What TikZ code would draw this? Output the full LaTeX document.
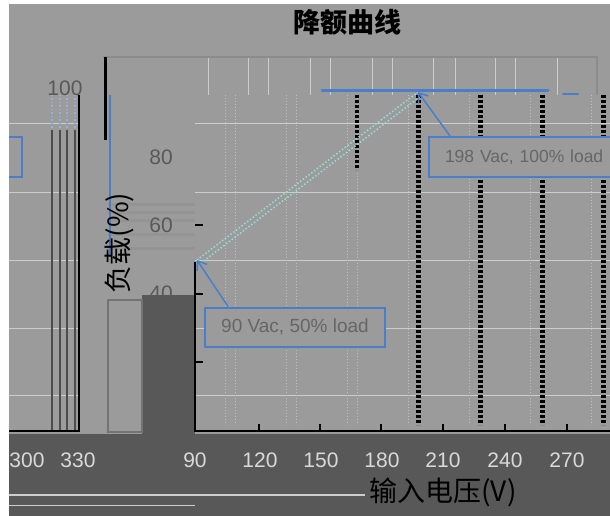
\documentclass[tikz,border=0pt]{standalone}
\usepackage{fontspec}
\setmainfont{Liberation Sans}
\newfontfamily\cjk{Noto Sans CJK SC}
\usetikzlibrary{arrows.meta}
\definecolor{chartgray}{RGB}{155,155,155}
\definecolor{bandgray}{RGB}{88,88,88}
\definecolor{gridlight}{RGB}{205,205,205}
\definecolor{chartblue}{RGB}{74,126,200}
\definecolor{slopecyan}{RGB}{150,222,212}
\tikzset{
  xtick/.style={font=\fontsize{21}{24}\selectfont,text=white!85!black,inner sep=0pt},
  ytick/.style={font=\fontsize{21}{24}\selectfont,text=black!65,inner sep=0pt},
  callout/.style={draw=chartblue,fill=chartgray,line width=2pt,minimum width=180pt,minimum height=39pt,
    font=\fontsize{19}{22}\selectfont,text=black!60,inner sep=0pt},
  pointer/.style={chartblue,line width=1.5pt,-{Straight Barb[length=8pt,width=12pt]}},
  curve/.style={chartblue,line width=3pt,line cap=round},
  darkdash/.style={black,line width=5pt,dash pattern=on 3pt off 2pt},
}
\begin{document}
\begin{tikzpicture}[x=1pt,y=-1pt]
    \useasboundingbox (0,0) rectangle (610,516);
    \clip (0,0) rectangle (610,516);
    % background and bands
    \fill[white] (0,0) rectangle (610,516);
    \fill[chartgray] (9,4) rectangle (610,516);
    \fill[bandgray] (9,434) rectangle (610,516);
    \fill[bandgray] (142,295) rectangle (195,434);
    \draw[black!55,line width=1.5pt] (108,300) rectangle (142,432);
    \foreach \y in {203,211,219,233,247}
        \fill[black!42] (108,\y) rectangle (195,\y+3);
    \draw[gridlight,line width=1.5pt] (9,495) -- (365,495);
    \draw[gridlight] (9,505) -- (195,505);
    % grid
    \foreach \y in {124,192,260,328,395}{
        \draw[gridlight,line width=1pt] (195,\y) -- (610,\y);
        \draw[gridlight,line width=1pt] (9,\y) -- (80,\y);
    }
    \foreach \x in {208,248,268,310,330,372,392,433,455,495,515,557}
        \draw[gridlight,line width=1pt] (\x,57) -- (\x,95);
    \foreach \x in {225,235,286,296,347,357,408,469,530,540,591}
        \draw[white!75!black,line width=1pt,dotted] (\x,95) -- (\x,425);
    \foreach \x in {418,480,542,603}
        \draw[darkdash] (\x,95) -- (\x,425);
    \draw[darkdash,line width=4pt] (357,95) -- (357,170);
    \foreach \x in {52,60,67,75}{
        \draw[chartblue!60!white,line width=1.5pt,dotted] (\x,95) -- (\x,130);
        \draw[black!70,line width=1.5pt] (\x,130) -- (\x,430);
    }
    % frame and axes
    \draw[black!45,line width=1.5pt] (103,57) -- (597,57) -- (597,95);
    \draw[black,line width=3pt] (105,57) -- (105,140);
    \draw[chartblue,line width=1.5pt] (110,95) -- (110,255);
    \draw[black,line width=2.5pt] (195,262) -- (195,431) -- (610,431);
    \draw[black,line width=2.5pt] (9,431) -- (80,431);
    \draw[black,line width=1.5pt] (79,95) -- (79,431);
    \foreach \x in {259,320,381,443,505,567}
        \draw[black,line width=2.5pt] (\x,431) -- (\x,424);
    \foreach \y in {362,294,225}
        \draw[black,line width=2.5pt] (195,\y) -- (203,\y);
    % tick labels
    \foreach \v/\y in {80/157,60/225,40/293,20/363,0/430}
        \node[ytick,anchor=east] (yl\v) at (173,\y) {\v};
    \node[ytick] (yl100) at (65,88) {100};
    \foreach \v/\x in {90/195,120/260,150/321,180/382,210/443,240/505,270/567}
        \node[xtick] (xl\v) at (\x,460) {\v};
    \node[xtick] (xl300) at (27,460) {300};
    \node[xtick] (xl330) at (78,460) {330};
    % derating curve
    \coordinate (start) at (197,260);
    \coordinate (knee) at (418,92);
    \draw[slopecyan,line width=1.5pt,dotted] (start) -- (knee);
    \draw[slopecyan,line width=1.5pt,dotted] (201,263) -- (421,96);
    \draw[curve] (322,91) -- (548,91);
    \draw[curve,line width=2pt] (563,94) -- (578,94);
    % callouts
    \node[callout] (low) at (295,327) {90 Vac, 50\% load};
    \node[callout,minimum width=204pt,minimum height=40pt,text width=172pt,align=left,
          font=\fontsize{17.5}{20}\selectfont] (high) at (531,157) {198 Vac, 100\% load};
    \draw[pointer] ([xshift=-67pt]low.north) -- (start);
    \draw[pointer] ([xshift=-81pt]high.north) -- (knee);
    \draw[chartblue,line width=2pt] (9,137) -- (22,137) -- (22,177) -- (9,177);
    % titles
    \node[font=\cjk\bfseries\fontsize{27}{30}\selectfont] (title) at (347,22) {降额曲线};
    \node[font=\cjk\fontsize{28}{31}\selectfont] (xtitle) at (443,492) {输入电压(V)};
    \node[font=\cjk\fontsize{28}{31}\selectfont,rotate=90] (ytitle) at (119,243) {负载(\%)};
\end{tikzpicture}
\end{document}
